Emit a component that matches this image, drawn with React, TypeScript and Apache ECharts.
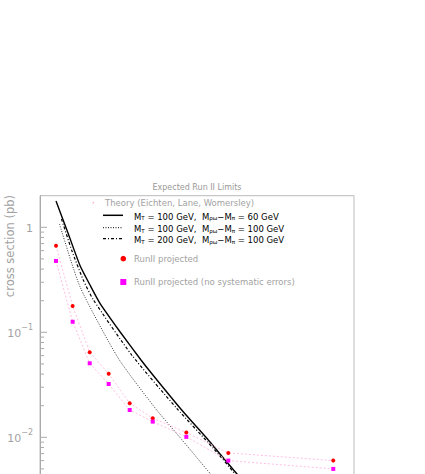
import React, { useEffect, useRef } from "react";
import * as echarts from "echarts";

// RunII projected limits (x in plot units, y in pb)
const xRun = [15.3, 31.2, 47.5, 65.6, 85.7, 107.7, 139.8, 179.9, 280.2];
const runIIProjected = [0.668, 0.178, 0.0645, 0.0403, 0.0211, 0.0152, 0.0111, 0.0071, 0.006];
const runIINoSyst = [0.478, 0.126, 0.0507, 0.0322, 0.0182, 0.0141, 0.0101, 0.006, 0.005];

// Theory curves (Eichten, Lane, Womersley)
const xTheory60 = [15.29, 26.75, 38.22, 47.77, 57.32, 76.43, 96.5, 108.25, 135.38, 160.8, 171.97, 188.22, 200.64];
const theory60 = [1.781, 0.8825, 0.4327, 0.2821, 0.1889, 0.1013, 0.05447, 0.03878, 0.0182, 0.009425, 0.006934, 0.004472, 0.003148];
const xTheory100 = [18.63, 38.22, 74.81, 111.5, 136.6, 162.4, 181.5];
const theory100 = [1.075, 0.2718, 0.05653, 0.0182, 0.00922, 0.004541, 0.00273];
const xTheory200 = [20.54, 30.57, 41.37, 51.11, 87.61, 130.6, 165.6, 186.3, 200.64];
const theory200 = [1.1995, 0.5946, 0.3149, 0.2031, 0.0608, 0.01889, 0.007856, 0.004472, 0.002821];

// labelled decades (the lower ones fall below the visible page)
const yTickValues = [1, 0.1, 0.01, 0.001];
const yLabelled = [1, 0.1, 0.01];
const minorFactors = [2, 3, 4, 5, 6, 7, 8, 9];

const titleText = "Expected Run II Limits";
const yTitle = "cross section (pb)";

const FONT = "DejaVu Sans";
const GRAY = "#a2a2a2";

const pair = (xs: number[], ys: number[]) => xs.map((x, i) => [x, ys[i]]);

const legendLabel = (mt: string, d: string) =>
  `{n|M}{s|T}{n| = ${mt} GeV,  M}{s|ρω}{n|−M}{s|π}{n| = ${d} GeV}`;

export default function App() {
  const ref = useRef<HTMLDivElement>(null);
  useEffect(() => {
    if (!ref.current) return;
    const chart = echarts.init(ref.current, undefined, { renderer: "svg" });

    const tickData: number[][] = [];
    yTickValues.forEach((v) => {
      tickData.push([0, v, 7]);
      minorFactors.forEach((f) => {
        const mv = v * f;
        if (mv < 2) tickData.push([0, mv, 4]);
      });
    });

    const richSub = {
      n: { fontSize: 8.5, fontFamily: FONT, color: GRAY, lineHeight: 12, verticalAlign: "bottom" },
      s: { fontSize: 5.5, fontFamily: FONT, color: GRAY, lineHeight: 6, verticalAlign: "bottom" },
    };

    const sample = (y: number, dash: any, width: number) => ({
      type: "line",
      shape: { x1: 103, y1: y, x2: 123, y2: y },
      style: { stroke: "#000", lineWidth: width, lineDash: dash },
    });

    chart.setOption({
      animation: false,
      backgroundColor: "#fff",
      grid: {
        left: 40,
        right: 71,
        top: 195.7,
        height: 346.6,
        show: true,
        borderColor: "#bbb",
        borderWidth: 1,
        backgroundColor: "transparent",
      },
      xAxis: {
        type: "value",
        min: 0,
        max: 300,
        axisLine: { show: false },
        axisTick: { show: false },
        axisLabel: { show: false },
        splitLine: { show: false },
      },
      yAxis: {
        type: "log",
        logBase: 10,
        min: 0.001,
        max: 2,
        axisLine: { show: true, lineStyle: { color: "#aaa", width: 1 } },
        axisTick: { show: false },
        splitLine: { show: false },
        axisLabel: {
          margin: 7,
          color: GRAY,
          fontFamily: FONT,
          fontSize: 11,
          formatter: (v: number) => {
            const l = Math.log10(v);
            const e = Math.round(l);
            if (Math.abs(l - e) > 1e-6) return "";
            if (!yLabelled.some((t) => Math.abs(Math.log10(t) - e) < 1e-6)) return "";
            if (e === 0) return "{b|1}";
            return `{b|10}{s|${e < 0 ? "−" : ""}${Math.abs(e)}}`;
          },
          rich: {
            b: { fontSize: 11, fontFamily: FONT, color: GRAY, verticalAlign: "bottom", lineHeight: 13 },
            s: { fontSize: 8, fontFamily: FONT, color: GRAY, verticalAlign: "bottom", lineHeight: 13, padding: [0, 0, 7, 0] },
          },
        },
      },
      graphic: [
        {
          type: "text",
          x: 197,
          y: 187,
          style: { text: titleText, fill: "#999", font: `8px '${FONT}'`, align: "center", verticalAlign: "middle" },
        },
        {
          type: "text",
          x: 10,
          y: 195,
          rotation: Math.PI / 2,
          style: { text: yTitle, fill: GRAY, font: `11.5px '${FONT}'`, align: "right", verticalAlign: "middle" },
        },
        { type: "circle", shape: { cx: 93.3, cy: 202.7, r: 0.8 }, style: { fill: "#ffaad4" } },
        {
          type: "text",
          x: 105,
          y: 202.7,
          style: { text: "Theory (Eichten, Lane, Womersley)", fill: GRAY, font: `8.5px '${FONT}'`, verticalAlign: "middle" },
        },
        sample(215.3, null, 1.5),
        { type: "text", x: 134, y: 215.3, style: { text: legendLabel("100", "60"), rich: richSub, verticalAlign: "middle" } },
        sample(227.7, [1, 1.5], 1),
        { type: "text", x: 134, y: 227.7, style: { text: legendLabel("100", "100"), rich: richSub, verticalAlign: "middle" } },
        sample(238.7, [3, 2, 1, 2], 1.2),
        { type: "text", x: 134, y: 238.7, style: { text: legendLabel("200", "100"), rich: richSub, verticalAlign: "middle" } },
        { type: "circle", shape: { cx: 123.3, cy: 258.7, r: 2.8 }, style: { fill: "#ff0000" } },
        {
          type: "text",
          x: 134,
          y: 258.7,
          style: { text: "RunII projected", fill: GRAY, font: `8.5px '${FONT}'`, verticalAlign: "middle" },
        },
        { type: "rect", shape: { x: 120.3, y: 279, width: 6, height: 6 }, style: { fill: "#ff00ff" } },
        {
          type: "text",
          x: 134,
          y: 282,
          style: { text: "RunII projected (no systematic errors)", fill: GRAY, font: `8.5px '${FONT}'`, verticalAlign: "middle" },
        },
      ],
      series: [
        {
          type: "custom",
          name: "ticks",
          silent: true,
          clip: false,
          data: tickData,
          renderItem: (params: any, api: any) => {
            const p = api.coord([api.value(0), api.value(1)]);
            return {
              type: "line",
              shape: { x1: p[0], y1: p[1], x2: p[0] + api.value(2), y2: p[1] },
              style: { stroke: "#aaa", lineWidth: 1 },
            };
          },
          z: 1,
        },
        {
          type: "line",
          name: "RunII projected",
          data: pair(xRun, runIIProjected),
          symbol: "circle",
          symbolSize: 4,
          itemStyle: { color: "#ff0000" },
          lineStyle: { color: "#ffbfe3", width: 1, type: [2, 2] },
          z: 3,
        },
        {
          type: "line",
          name: "RunII projected (no systematic errors)",
          data: pair(xRun, runIINoSyst),
          symbol: "rect",
          symbolSize: 4,
          itemStyle: { color: "#ff00ff" },
          lineStyle: { color: "#ffbfe3", width: 1, type: [2, 2] },
          z: 3,
        },
        {
          type: "line",
          name: "MT100 d60",
          data: pair(xTheory60, theory60),
          symbol: "none",
          smooth: 0.2,
          lineStyle: { color: "#000", width: 1.4 },
          z: 2,
        },
        {
          type: "line",
          name: "MT100 d100",
          data: pair(xTheory100, theory100),
          symbol: "none",
          smooth: 0.2,
          lineStyle: { color: "#333", width: 1, type: [1, 1.5] },
          z: 2,
        },
        {
          type: "line",
          name: "MT200 d100",
          data: pair(xTheory200, theory200),
          symbol: "none",
          smooth: 0.2,
          lineStyle: { color: "#000", width: 1.2, type: [3, 2, 1, 2] },
          z: 2,
        },
      ],
    });
    return () => chart.dispose();
  }, []);

  return (
    <div style={{ position: "fixed", left: 0, top: 0, width: 425, height: 474, overflow: "hidden", background: "#fff" }}>
      <div ref={ref} style={{ width: 425, height: 600 }} />
    </div>
  );
}
